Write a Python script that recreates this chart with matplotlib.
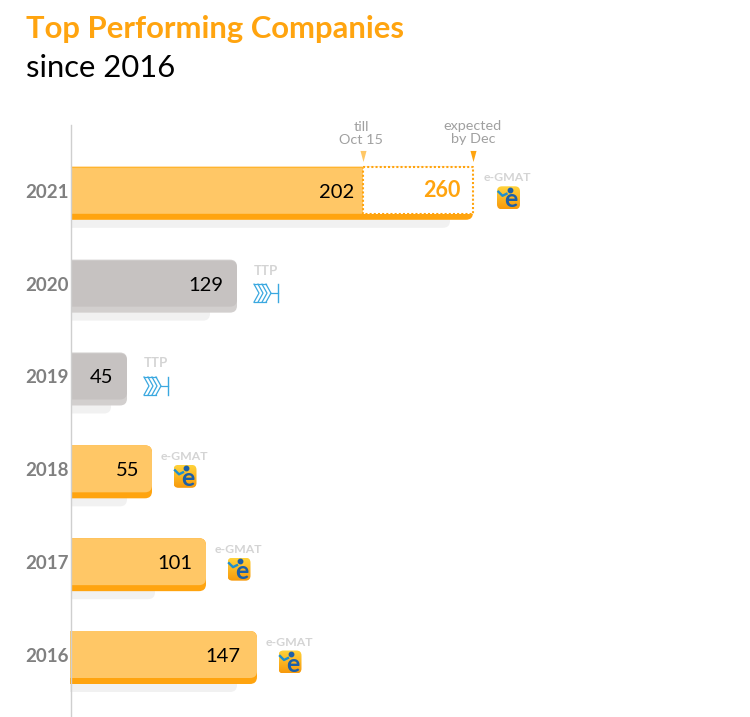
import matplotlib
matplotlib.use("Agg")
from matplotlib import pyplot as plt
from matplotlib.colors import LinearSegmentedColormap
from matplotlib.patches import FancyBboxPatch, Rectangle
import numpy as np

plt.rcParams['font.family'] = ['Lato', 'DejaVu Sans']

# data
years = [2021, 2020, 2019, 2018, 2017, 2016]
values = [202, 129, 45, 55, 101, 147]
companies = ['e-GMAT', 'TTP', 'TTP', 'e-GMAT', 'e-GMAT', 'e-GMAT']
# the bars in the picture are not to scale, so the drawn lengths are kept apart (px)
bar_lengths = [292, 166, 56, 81, 135, 186]
shadow_lengths = [379, 139, 40, 56, 84, 166]
expected_value = 260
expected_length = 402

ORANGE = '#ffa40f'
LIGHT_ORANGE = '#ffc766'
GREY = '#c6c2c1'
DARK_GREY = '#d2cfce'
SHADOW = '#f1f1f1'
PX_PER_YEAR = 92.84
BAR_H = 53 / PX_PER_YEAR
XLIM = (-71, 679)
YLIM = (2016 - 60 / PX_PER_YEAR, 2021 + 192.8 / PX_PER_YEAR)
# right margin of the number inside each bar
value_margin = {2021: 9, 2020: 14, 2019: 14, 2018: 13, 2017: 14, 2016: 17}
logo_cmap = LinearSegmentedColormap.from_list('logo', ['#f79a0c', '#ffd23a'])

fig = plt.figure(figsize=(7.5, 7.17), dpi=100)
ax = fig.add_axes([0, 0, 1, 1])
ax.axis('off')


def px(n):
    return n / PX_PER_YEAR


def box(x0, x1, y_top, height, color, z, radius=7):
    # rounded on the right, the left end is cut at the axis
    p = FancyBboxPatch((x0 - 20, y_top - height), x1 - x0 + 20, height,
                       boxstyle='round,pad=0,rounding_size=%g' % radius,
                       mutation_aspect=1 / PX_PER_YEAR, fc=color, ec='none', zorder=z)
    ax.add_patch(p)
    p.set_clip_path(Rectangle((x0, 2000), 800, 40, transform=ax.transData))
    return p


def egmat_icon(x, y):
    # small logo, x in px and y in year units
    p = FancyBboxPatch((x - 11.5, y - px(11.5)), 23, px(23),
                       boxstyle='round,pad=0,rounding_size=5',
                       mutation_aspect=1 / PX_PER_YEAR, fc='none', ec='none', zorder=5)
    ax.add_patch(p)
    img = ax.imshow(np.linspace(0, 1, 32).reshape(32, 1), cmap=logo_cmap, aspect='auto', origin='lower',
                    extent=(x - 11.5, x + 11.5, y - px(11.5), y + px(11.5)), zorder=5)
    img.set_clip_path(p)
    ax.text(x + 2.5, y - px(2), 'e', color='#1c5fa8', fontsize=18, fontweight='bold',
            ha='center', va='center', zorder=6)
    ax.plot([x - 10, x - 6, x - 2], [y + px(6), y + px(2), y + px(4)],
            color='#1c8fd0', lw=1.7, zorder=6)
    ax.plot([x + 1], [y + px(8)], 'o', ms=3.2, color='#1c5fa8', zorder=6)


def ttp_icon(x, y):
    # chevrons with an end bar
    h = px(9)
    blue = '#3aa8e0'
    for base in [-12, -8, -4, 0]:
        ax.plot([x + base, x + base + 5, x + base], [y + h, y, y - h], color=blue, lw=0.9, zorder=5)
    ax.plot([x - 12, x], [y + h, y + h], color=blue, lw=0.9, zorder=5)
    ax.plot([x - 12, x], [y - h, y - h], color=blue, lw=0.9, zorder=5)
    ax.plot([x + 5, x + 12], [y, y], color=blue, lw=0.9, zorder=5)
    ax.plot([x + 12, x + 12], [y + h, y - h], color=blue, lw=1.0, zorder=5)


for year, value, company, length, shadow in zip(years, values, companies, bar_lengths, shadow_lengths):
    top = year + px(26)
    is_egmat = company == 'e-GMAT'
    base = ORANGE if is_egmat else DARK_GREY
    face = LIGHT_ORANGE if is_egmat else GREY
    x0 = -1 if year == 2016 else 0
    inset = 0 if is_egmat else 1

    box(x0, shadow, top - px(8), BAR_H, SHADOW, 1)
    box(x0, expected_length if year == 2021 else length, top, BAR_H, base, 2)
    box(x0, length, top - px(inset), BAR_H - px(6 + inset), face, 3, radius=1 if year == 2021 else 7)

    ax.text(-2, year + px(0.5), str(year), color='#808080', fontsize=13.5, fontweight='bold',
            ha='right', va='center', zorder=6)
    ax.text(length - value_margin[year], year + px(0.5), str(value), color='black',
            fontsize=14.5, ha='right', va='center', zorder=6)

    if is_egmat:
        label_x = (expected_length if year == 2021 else length) + (34.5 if year == 2021 else 32)
        ax.text(label_x, year + px(15), company, color='#d4d4d4', fontsize=8.8, fontweight='bold',
                ha='center', va='center', zorder=6)
        egmat_icon(label_x + 1, year - px(5))
    else:
        label_x = length + 29
        ax.text(label_x, year + px(15), company, color='#d4d4d4', fontsize=9.5, fontweight='bold',
                ha='center', va='center', zorder=6)
        ttp_icon(label_x, year - px(7.5))

# 2021 forecast part
y21 = years[0]
top21 = y21 + px(26)
end = bar_lengths[0]
ax.add_patch(Rectangle((end, top21 - px(47)), expected_length - end, px(47), fc='white', ec='none', zorder=3.5))
ax.plot([end, expected_length, expected_length, end, end],
        [top21, top21, top21 - px(47), top21 - px(47), top21],
        color=ORANGE, lw=1.5, ls=(0, (1, 1)), zorder=4)
ax.plot([0, end], [top21, top21], color='#ffb52e', lw=0.8, zorder=4)
ax.text(expected_length - 12, y21 + px(2), str(expected_value), color=ORANGE, fontsize=15.5,
        fontweight='bold', ha='right', va='center', zorder=6)

# callouts above the 2021 bar
tri = [(-3, 5.5), (3, 5.5), (0, -5.5), (-3, 5.5)]
ax.plot([end], [y21 + px(37.3)], marker=tri, ms=8, color=LIGHT_ORANGE, mec='none', zorder=5)
ax.plot([expected_length], [y21 + px(37.3)], marker=tri, ms=8, color=ORANGE, mec='none', zorder=5)
ax.text(end - 2, y21 + px(59), 'till\nOct 15', color='#a0a0a0', fontsize=10.4,
        ha='center', va='center', linespacing=1.1)
ax.text(expected_length, y21 + px(60.5), 'expected\nby Dec', color='#a0a0a0', fontsize=10.4,
        ha='center', va='center', linespacing=1.1)

# axis line
ax.plot([0, 0], [2015.35, 2021 + px(68)], color='#cfcfcf', lw=1, zorder=7)

ax.set_xlim(*XLIM)
ax.set_ylim(*YLIM)

fig.text(26 / 750, 1 - 29 / 717, 'Top Performing Companies', color=ORANGE, fontsize=22.3,
         fontweight='bold', ha='left', va='center')
fig.text(26 / 750, 1 - 68 / 717, 'since 2016', color='black', fontsize=22.3, ha='left', va='center')

fig.savefig('out.png', dpi=100)
